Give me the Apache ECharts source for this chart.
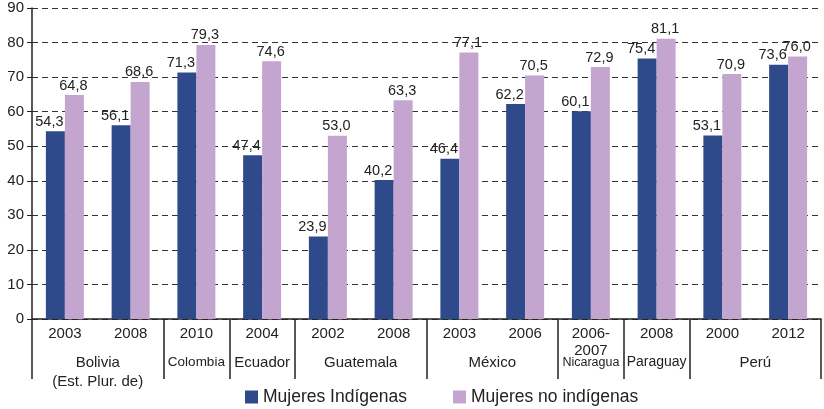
<!DOCTYPE html>
<html>
<head>
<meta charset="utf-8">
<script src="https://cdn.jsdelivr.net/npm/echarts@6/dist/echarts.min.js"></script>
<style>
	html, body {margin:0; padding:0; background:#fff;}
	#main {width:824px; height:409px;}
</style>
</head>
<body>
<div id="main"></div>
<script>
	var years = ['2003', '2008', '2010', '2004', '2002', '2008', '2003', '2006', '2006-\n2007', '2008', '2000', '2012'];
	var countries = ['Bolivia\n(Est. Plur. de)', 'Colombia', 'Ecuador', 'Guatemala', 'México', 'Nicaragua', 'Paraguay', 'Perú'];
	var countrySpan = [2, 1, 1, 2, 2, 1, 1, 2];
	var indigenas = [54.3, 56.1, 71.3, 47.4, 23.9, 40.2, 46.4, 62.2, 60.1, 75.4, 53.1, 73.6];
	var noIndigenas = [64.8, 68.6, 79.3, 74.6, 53.0, 63.3, 77.1, 70.5, 72.9, 81.1, 70.9, 76.0];
	var yTicks = [0, 10, 20, 30, 40, 50, 60, 70, 80, 90];

	// eje de países: puntos cada media categoría (0, 0.5, ... 12)
	var half = [], bounds = {0: true}, pos = 0;
	for (var i = 0; i <= years.length * 2; i++) half.push('');
	countries.forEach(function (c, k) {
		var item = {value: c};
		if (c === 'Nicaragua') item.textStyle = {fontSize: 12.5};
		if (c === 'Colombia') item.textStyle = {fontSize: 13.5};
		if (c === 'Paraguay') item.textStyle = {fontSize: 14};
		half[pos + countrySpan[k]] = item;
		pos += countrySpan[k] * 2;
		bounds[pos] = true;
	});

	var font = 'Liberation Sans, Arial, sans-serif';
	var fmt = function (p) { return p.value.toFixed(1).replace('.', ','); };

	var myChart = echarts.init(document.getElementById('main'));
	var option = {
		animation: false,
		textStyle: {fontFamily: font},
		grid: {left: 32, right: -4, top: 8, bottom: 90},
		legend: {
			bottom: 3,
			left: 245,
			padding: 0,
			itemWidth: 13,
			itemHeight: 13,
			itemGap: 46,
			icon: 'rect',
			textStyle: {fontSize: 17.5, color: '#222', fontFamily: font},
			data: ['Mujeres Indígenas', 'Mujeres no indígenas']
		},
		xAxis: [
			{
				type: 'category',
				data: years,
				boundaryGap: true,
				axisLine: {lineStyle: {color: '#222', width: 1.5}},
				axisTick: {interval: 0, length: 26, lineStyle: {color: '#222', width: 1.5}},
				axisLabel: {interval: 0, margin: 6, fontSize: 15, color: '#222', lineHeight: 17, fontFamily: font}
			},
			{
				type: 'category',
				position: 'bottom',
				data: half,
				boundaryGap: false,
				axisLine: {show: false},
				axisTick: {
					interval: function (idx) { return !!bounds[idx]; },
					length: 60,
					lineStyle: {color: '#222', width: 1.5}
				},
				axisLabel: {interval: 0, margin: 34, fontSize: 15, color: '#222', lineHeight: 19, fontFamily: font}
			}
		],
		yAxis: {
			type: 'value',
			min: yTicks[0],
			max: yTicks[yTicks.length - 1],
			interval: 10,
			axisLine: {show: true, lineStyle: {color: '#222', width: 1.5}},
			axisTick: {show: true, length: 5, lineStyle: {color: '#222'}},
			axisLabel: {fontSize: 15, color: '#222', margin: 8, fontFamily: font},
			splitLine: {lineStyle: {color: '#333', type: [6, 4], width: 1}}
		},
		series: [
			{
				name: 'Mujeres Indígenas',
				type: 'bar',
				data: indigenas,
				barWidth: 19,
				barGap: '0%',
				itemStyle: {color: '#2f4a8b'},
				label: {show: true, position: 'top', distance: 2, offset: [-6, 0], formatter: fmt, fontSize: 14.5, color: '#222', fontFamily: font}
			},
			{
				name: 'Mujeres no indígenas',
				type: 'bar',
				data: noIndigenas,
				barWidth: 19,
				itemStyle: {color: '#c3a5d0'},
				label: {show: true, position: 'top', distance: 2, offset: [-1, 0], formatter: fmt, fontSize: 14.5, color: '#222', fontFamily: font}
			}
		]
	};
	myChart.setOption(option);
</script>
</body>
</html>
